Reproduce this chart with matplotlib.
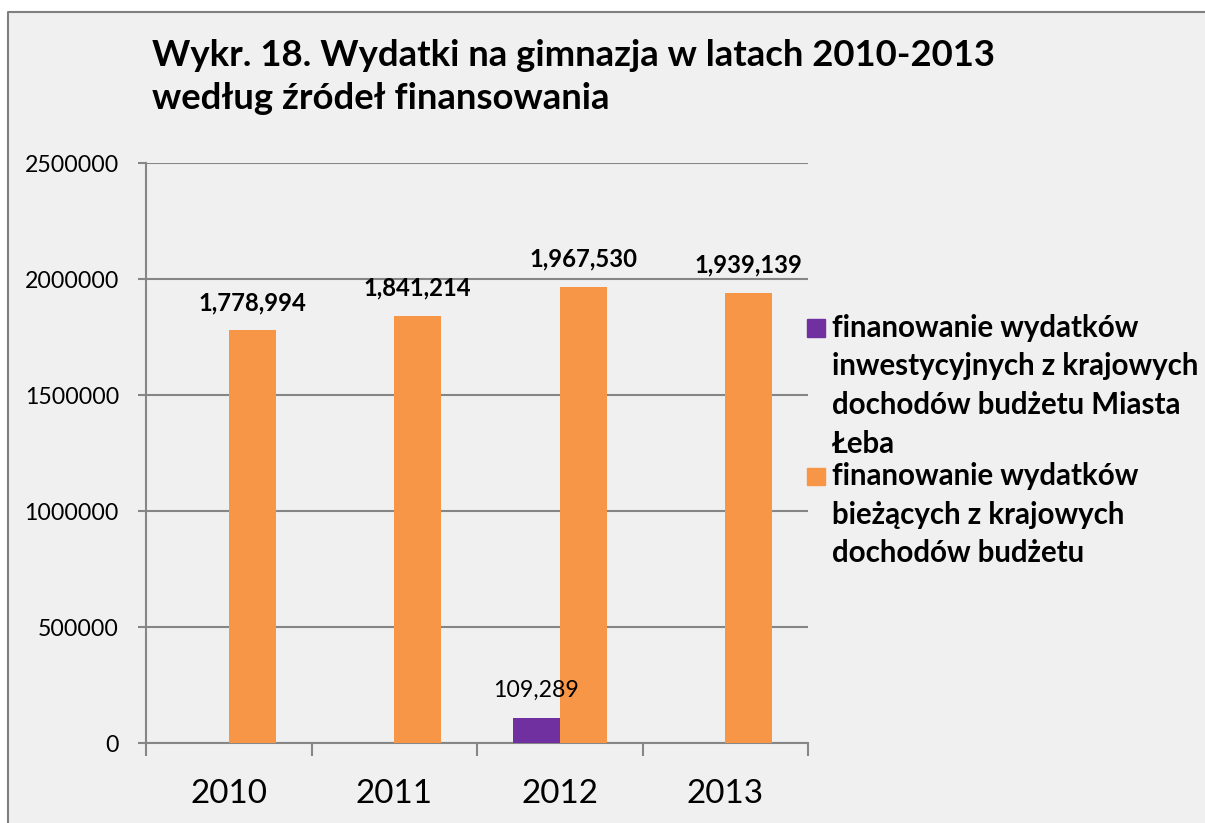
import matplotlib
matplotlib.use("Agg")
import matplotlib.pyplot as plt
from matplotlib.patches import Rectangle
from matplotlib.lines import Line2D
import numpy as np

# ---- data ----
years = ["2010", "2011", "2012", "2013"]
invest = [0, 0, 109289, 0]
current = [1778994, 1841214, 1967530, 1939139]
yticks = [0, 500000, 1000000, 1500000, 2000000, 2500000]
title_lines = ["Wykr. 18. Wydatki na gimnazja w latach 2010-2013",
               "według źródeł finansowania"]
legend_invest = ["finanowanie wydatków", "inwestycyjnych z krajowych",
                 "dochodów budżetu Miasta", "Łeba"]
legend_current = ["finanowanie wydatków", "bieżących z krajowych",
                  "dochodów budżetu"]

PURPLE = "#7030A0"
ORANGE = "#F79646"
GRID = "#868686"
BG = "#F0F0F0"

W, H = 1205, 823
plt.rcParams["font.family"] = ["Lato", "DejaVu Sans"]
fig = plt.figure(figsize=(W / 100, H / 100), dpi=100)
fig.patch.set_facecolor("white")
renderer = fig.canvas.get_renderer()


def fx(px):
    return px / W


def fy(py):
    return 1 - py / H


def fit(text, target_px, weight="normal"):
    t = fig.text(0, 0, text, fontsize=20, weight=weight)
    w = t.get_window_extent(renderer).width
    t.remove()
    return 20 * target_px / w


# chart area background + border (only top and left edges are visible)
fig.add_artist(Rectangle((fx(8), 0), 1 - fx(8), fy(12),
                         transform=fig.transFigure, facecolor=BG,
                         edgecolor="none", zorder=0))
fig.add_artist(Line2D([fx(8), fx(8), 1], [0, fy(12), fy(12)],
                      transform=fig.transFigure, color="#7F7F7F", lw=1.5,
                      zorder=0.5))

# title
ts = fit(title_lines[0], 845, "bold")
fig.text(fx(152), fy(66), title_lines[0], fontsize=ts, weight="bold",
         va="baseline", ha="left")
fig.text(fx(152), fy(109), title_lines[1], fontsize=ts, weight="bold",
         va="baseline", ha="left")

# axes
ax = fig.add_axes([fx(146), fy(743), (808 - 146) / W, (743 - 163) / H])
ax.set_facecolor("none")
x = np.arange(len(years))
bw = 0.283
ax.bar(x - bw / 2, invest, bw, color=PURPLE, zorder=3)
ax.bar(x + bw / 2, current, bw, color=ORANGE, zorder=3)
ax.set_xlim(-0.5, len(years) - 0.5)
ax.set_ylim(0, 2500000)

ax.set_yticks(yticks)
ax.set_yticklabels([str(v) for v in yticks])
ax.yaxis.grid(True, color=GRID, lw=1.5, zorder=0)
ax.set_axisbelow(True)
for s in ["top", "right"]:
    ax.spines[s].set_visible(False)
for s in ["left", "bottom"]:
    ax.spines[s].set_color(GRID)
    ax.spines[s].set_linewidth(1.5)

ys = fit("2500000", 94)
ax.tick_params(axis="y", length=6, width=1.5, color=GRID, pad=13.5,
               labelsize=ys, labelcolor="black")

xs = fit("2010", 77)
ax.set_xticks(x)
ax.set_xticklabels(years)
ax.tick_params(axis="x", which="major", length=0, pad=26, labelsize=xs)
ax.set_xticks(np.arange(len(years) + 1) - 0.5, minor=True)
ax.tick_params(axis="x", which="minor", length=9, width=1.5, color=GRID)

# value labels
vs_b = fit("1,778,994", 108, "bold")
vs_n = fit("109,289", 86)
for xi, v in zip(x, current):
    if v:
        ax.annotate(f"{v:,}", (xi + bw / 2, v), xytext=(0, 20),
                    textcoords="offset points", ha="center", va="center",
                    fontsize=vs_b, weight="bold")
for xi, v in zip(x, invest):
    if v:
        ax.annotate(f"{v:,}", (xi - bw / 2, v), xytext=(0, 19.5),
                    textcoords="offset points", ha="center", va="center",
                    fontsize=vs_n)

# legend (manual, Excel-like layout)
ls = fit("inwestycyjnych z krajowych", 368, "bold")
fig.add_artist(Rectangle((fx(807), fy(337)), 18 / W, 18 / H,
                         transform=fig.transFigure, color=PURPLE))
fig.add_artist(Rectangle((fx(807), fy(485)), 18 / W, 17 / H,
                         transform=fig.transFigure, color=ORANGE))
for line, yb in zip(legend_invest, [337, 375, 414, 453]):
    fig.text(fx(832), fy(yb), line, fontsize=ls, weight="bold",
             va="baseline", ha="left")
for line, yb in zip(legend_current, [485, 524, 562]):
    fig.text(fx(832), fy(yb), line, fontsize=ls, weight="bold",
             va="baseline", ha="left")

fig.savefig("out.png", dpi=100)
